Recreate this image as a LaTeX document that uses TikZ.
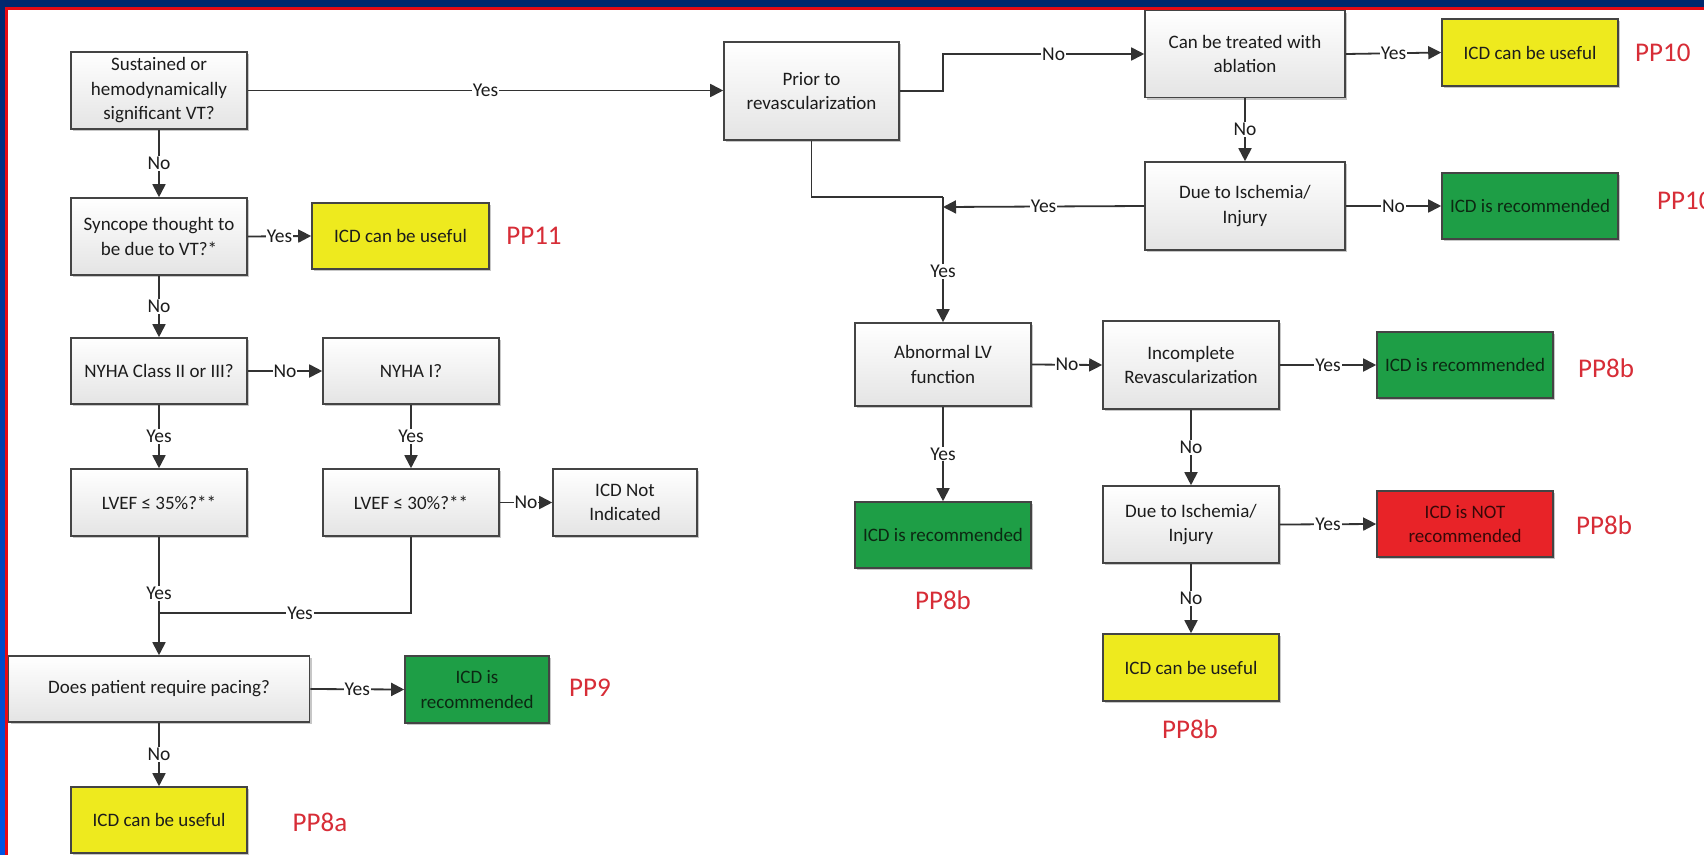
\documentclass[tikz,border=0pt]{standalone}
\usepackage{fontspec}
\setmainfont{Carlito}
\usetikzlibrary{arrows.meta,shadows}
\definecolor{navy}{RGB}{0,40,110}
\definecolor{navyb}{RGB}{0,85,230}
\definecolor{framered}{RGB}{230,10,20}
\definecolor{boxline}{RGB}{68,68,68}
\definecolor{boxbot}{RGB}{228,228,228}
\definecolor{linec}{RGB}{50,50,50}
\definecolor{txtc}{RGB}{28,28,28}
\definecolor{yel}{RGB}{238,234,30}
\definecolor{grn}{RGB}{30,158,70}
\definecolor{rdb}{RGB}{232,35,40}
\definecolor{grntxt}{RGB}{12,40,18}
\definecolor{rdtxt}{RGB}{55,8,8}
\definecolor{ppred}{RGB}{215,45,55}
\begin{document}
\begin{tikzpicture}[x=1pt,y=-1pt,
  base/.style={draw=boxline, line width=1.6pt, align=center, inner sep=2pt,
    font=\fontsize{19}{24.5}\selectfont,
    drop shadow={shadow xshift=2pt, shadow yshift=-2pt, fill=black, opacity=0.22}},
  gbox/.style={base, top color=white, bottom color=boxbot, text=txtc},
  ybox/.style={base, fill=yel, text=txtc},
  gnbox/.style={base, fill=grn, text=grntxt},
  rbox/.style={base, fill=rdb, text=rdtxt},
  sz/.style 2 args={minimum width=#1pt, minimum height=#2pt},
  lab/.style={fill=white, inner sep=1pt, text=txtc, font=\fontsize{19.5}{21}\selectfont},
  pp/.style={text=ppred, inner sep=0pt, font=\fontsize{27}{30}\selectfont},
  line/.style={draw=linec, line width=1.8pt},
  arr/.style={line, -{Triangle[length=13pt,width=13pt]}}
]
\useasboundingbox (0,0) rectangle (1704,854);
\fill[white] (-10,-10) rectangle (1714,864);

% ---- left column ----
\node[gbox, sz={176}{77}] (A) at (159,90.5) {Sustained or\\hemodynamically\\significant VT?};
\node[gbox, sz={176}{77}] (Syn) at (159,236.5) {Syncope thought to\\be due to VT?*};
\node[ybox, sz={177}{66}] (Y11) at (400.5,236) {ICD can be useful};
\node[pp] (P11) at (534,236) {PP11};
\node[gbox, sz={176}{66}] (NY23) at (159,371) {NYHA Class II or III?};
\node[gbox, sz={176}{66}] (NY1) at (411,371) {NYHA I?};
\node[gbox, sz={176}{67}] (L35) at (159,502.5) {LVEF ≤ 35\%?**};
\node[gbox, sz={176}{67}] (L30) at (411,502.5) {LVEF ≤ 30\%?**};
\node[gbox, sz={144}{67}] (NI) at (625,502.5) {ICD Not\\Indicated};
\node[gbox, sz={301}{66}] (Pace) at (159,689) {Does patient require pacing?};
\node[gnbox, sz={144}{67}] (G9) at (477,689.5) {ICD is\\recommended};
\node[pp] (P9) at (590,688) {PP9};
\node[ybox, sz={176}{66}] (Y8a) at (159,820) {ICD can be useful};
\node[pp] (P8a) at (320,822) {PP8a};

% ---- right part ----
\node[gbox, sz={175}{98}] (B) at (811.5,91) {Prior to\\revascularization};
\node[gbox, sz={200}{87}] (C) at (1245,54) {Can be treated with\\ablation};
\node[ybox, sz={176}{67}] (Y10) at (1530,52.5) {ICD can be useful};
\node[pp, anchor=west] (P10a) at (1635,53) {PP10};
\node[gbox, sz={200}{88}] (D) at (1245,206) {Due to Ischemia/\\Injury};
\node[gnbox, sz={176}{66}] (G10) at (1530,206) {ICD is recommended};
\node[pp, anchor=west] (P10b) at (1657,201) {PP10};
\node[gbox, sz={176}{83}] (E) at (943,364.5) {Abnormal LV\\function};
\node[gbox, sz={176}{88}] (F) at (1191,365) {Incomplete\\Revascularization};
\node[gnbox, sz={176}{66}] (G8b) at (1465,365) {ICD is recommended};
\node[pp, anchor=west] (P8b1) at (1578,368) {PP8b};
\node[gnbox, sz={176}{66}] (Eg) at (943,535) {ICD is recommended};
\node[pp] (P8b2) at (943,600) {PP8b};
\node[gbox, sz={176}{77}] (G) at (1191,524.5) {Due to Ischemia/\\Injury};
\node[rbox, sz={176}{66}] (Rd) at (1465,524) {ICD is NOT\\recommended};
\node[pp, anchor=west] (P8b3) at (1576,525) {PP8b};
\node[ybox, sz={176}{67}] (Y8b) at (1191,667.5) {ICD can be useful};
\node[pp] (P8b4) at (1190,729) {PP8b};

\coordinate (J) at (159,613);
\coordinate (K1) at (943,91);
\coordinate (K2) at (943,197);
\coordinate (K3) at (943,207);

% ---- connectors left ----
\draw[arr] (A.east) -- node[lab]{Yes} (B.west |- A.east);
\draw[arr] (A.south) -- node[lab]{No} (Syn.north);
\draw[arr] (Syn.east) -- node[lab]{Yes} (Y11.west);
\draw[arr] (Syn.south) -- node[lab]{No} (NY23.north);
\draw[arr] (NY23.east) -- node[lab]{No} (NY1.west);
\draw[arr] (NY23.south) -- node[lab]{Yes} (L35.north);
\draw[arr] (NY1.south) -- node[lab]{Yes} (L30.north);
\draw[arr] (L30.east) -- node[lab]{No} (NI.west);
\draw[arr] (L35.south) -- node[lab,pos=0.48]{Yes} (Pace.north);
\draw[line] (L30.south) |- node[lab,pos=0.72]{Yes} (J);
\draw[arr] (Pace.east) -- node[lab]{Yes} (G9.west);
\draw[arr] (Pace.south) -- node[lab]{No} (Y8a.north);

% ---- connectors right ----
\draw[arr] (B.east) -- (K1) |- node[lab,pos=0.775]{No} (C.west);
\draw[arr] (C.east) -- node[lab]{Yes} (Y10.west);
\draw[arr] (C.south) -- node[lab]{No} (D.north);
\draw[arr] (D.east) -- node[lab]{No} (G10.west);
\draw[line] (B.south) |- (K2);
\draw[arr] (K2) -- node[lab,pos=0.595]{Yes} (E.north);
\draw[arr] (D.west) -- node[lab]{Yes} (K3);
\draw[arr] (E.east) -- node[lab]{No} (F.west);
\draw[arr] (F.east) -- node[lab]{Yes} (G8b.west);
\draw[arr] (E.south) -- node[lab]{Yes} (Eg.north);
\draw[arr] (F.south) -- node[lab]{No} (G.north);
\draw[arr] (G.east) -- node[lab]{Yes} (Rd.west);
\draw[arr] (G.south) -- node[lab]{No} (Y8b.north);

% ---- frame ----
\fill[navy] (-10,-10) rectangle (1714,7);
\fill[framered] (7,7) rectangle (1714,9.5);
\shade[top color=navy, bottom color=navyb] (-10,-10) rectangle (5,864);
\fill[framered] (5,7) rectangle (7.5,864);
\end{tikzpicture}
\end{document}
